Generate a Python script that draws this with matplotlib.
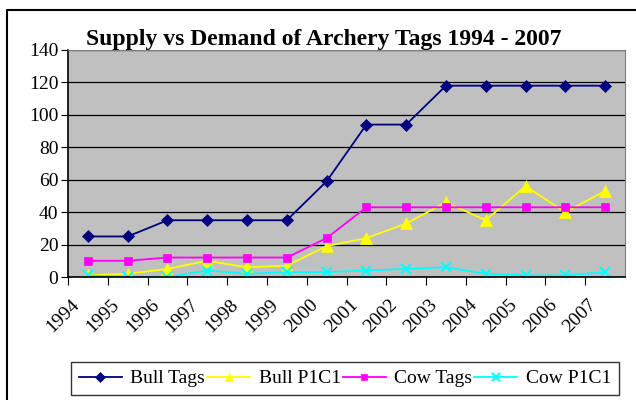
import matplotlib.pyplot as plt
import numpy as np
from matplotlib.lines import Line2D

plt.rcParams['font.family'] = ['Liberation Serif', 'DejaVu Serif']

# data
YEARS = ['1994', '1995', '1996', '1997', '1998', '1999', '2000',
         '2001', '2002', '2003', '2004', '2005', '2006', '2007']
BULL_TAGS = [25, 25, 35, 35, 35, 35, 59, 94, 94, 118, 118, 118, 118, 118]
BULL_P1C1 = [1, 2, 5, 10, 6, 7, 19, 24, 33, 46, 35, 56, 40, 53]
COW_TAGS = [10, 10, 12, 12, 12, 12, 24, 43, 43, 43, 43, 43, 43, 43]
COW_P1C1 = [1, 0, 0, 4, 2, 3, 3, 4, 5, 6, 2, 1, 1, 3]

SERIES = [
    ('Bull Tags', BULL_TAGS, '#000080', 'D', 6),
    ('Bull P1C1', BULL_P1C1, '#FFFF00', '^', 8),
    ('Cow Tags', COW_TAGS, '#FF00FF', 's', 6),
    ('Cow P1C1', COW_P1C1, '#00FFFF', 'x', 7),
]

fig = plt.figure(figsize=(6.36, 4.0), dpi=100)
W, H = 636, 400
ax = fig.add_axes([68 / W, 1 - 277 / H, 557 / W, 227 / H])
ax.set_facecolor('#C0C0C0')

# outer chart border (top and left only, rest is cropped off)
fig.lines.append(Line2D([7 / W, 7 / W, 1.0], [0.0, 1 - 10 / H, 1 - 10 / H],
                        transform=fig.transFigure, color='black', linewidth=1.5))

x = np.arange(len(YEARS))
for name, vals, col, mk, ms in SERIES:
    ax.plot(x, vals, color=col, marker=mk, markersize=ms, linewidth=1.3,
            markeredgewidth=1.5 if mk == 'x' else 0.5, label=name)

ax.set_xlim(-0.5, len(YEARS) - 0.5)
ax.set_ylim(0, 140)
ax.set_yticks(range(0, 141, 20))
ax.yaxis.grid(True, color='black', linewidth=0.9)
ax.set_axisbelow(True)

# category boundaries get the tick marks, labels sit under the category centres
ax.set_xticks(x - 0.5)
ax.set_xticklabels([])
for xi, yr in zip(x, YEARS):
    ax.annotate(yr, xy=(xi, 0), xycoords=('data', 'axes fraction'),
                xytext=(-8, -18), textcoords='offset points',
                rotation=45, ha='right', va='center', rotation_mode='anchor',
                fontsize=14, annotation_clip=False)
ax.tick_params(axis='x', length=6, direction='out', color='black')
ax.tick_params(axis='y', length=5, direction='out', labelsize=14, pad=2)

for s in ['top', 'right']:
    ax.spines[s].set_color('#808080')
for s in ['left', 'bottom']:
    ax.spines[s].set_color('black')
    ax.spines[s].set_linewidth(1.2)

fig.text(324 / W, 1 - 40 / H, 'Supply vs Demand of Archery Tags 1994 - 2007',
         ha='center', va='center', fontsize=17, weight='bold')

leg = fig.legend(loc='center', bbox_to_anchor=(345 / W, 1 - 378.5 / H), ncol=4,
                 fontsize=14, frameon=True, fancybox=False, edgecolor='black',
                 handlelength=2.2, columnspacing=0.1, handletextpad=0.45,
                 borderpad=0.42, markerscale=0.8)
leg.get_frame().set_linewidth(1.0)

plt.savefig('out.png', dpi=100)
